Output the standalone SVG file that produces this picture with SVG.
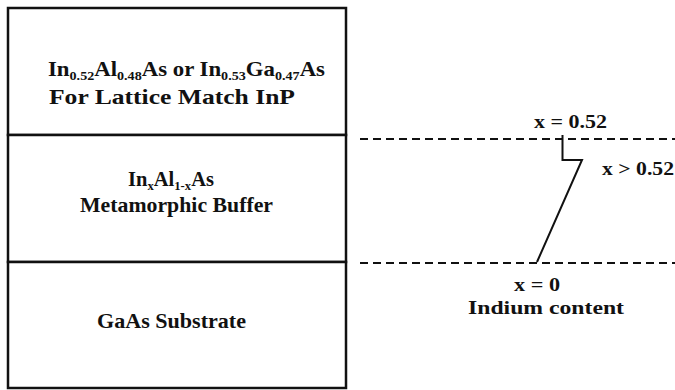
<svg xmlns="http://www.w3.org/2000/svg" width="675" height="390" viewBox="0 0 675 390">
<style>
.t{font-family:"Liberation Serif","Times New Roman","DejaVu Serif",serif;font-weight:bold;font-size:21px;fill:#111}
.r{font-size:19px}
.s{font-size:13px}
.box{fill:#fff;stroke:#111;stroke-width:2.5}
.dash{stroke:#111;stroke-width:2;stroke-dasharray:8 5;fill:none}
.prof{stroke:#111;stroke-width:2;fill:none}
</style>
<rect width="675" height="390" fill="#fff"/>
<g id="layer-top">
<rect class="box" x="8" y="8" width="338" height="127"/>
<text class="t" x="48" y="76" textLength="277" lengthAdjust="spacingAndGlyphs">In<tspan class="s" dy="4">0.52</tspan><tspan dy="-4">Al</tspan><tspan class="s" dy="4">0.48</tspan><tspan dy="-4">As or In</tspan><tspan class="s" dy="4">0.53</tspan><tspan dy="-4">Ga</tspan><tspan class="s" dy="4">0.47</tspan><tspan dy="-4">As</tspan></text>
<text class="t" x="49" y="104" textLength="246" lengthAdjust="spacingAndGlyphs">For Lattice Match InP</text>
</g>
<g id="layer-buffer">
<rect class="box" x="8" y="135" width="338" height="127"/>
<text class="t" x="128" y="186" textLength="86" lengthAdjust="spacingAndGlyphs">In<tspan class="s" dy="4">x</tspan><tspan dy="-4">Al</tspan><tspan class="s" dy="4">1-x</tspan><tspan dy="-4">As</tspan></text>
<text class="t" x="80" y="212" textLength="193" lengthAdjust="spacingAndGlyphs">Metamorphic Buffer</text>
</g>
<g id="layer-substrate">
<rect class="box" x="8" y="262" width="338" height="126"/>
<text class="t" x="97" y="328" textLength="149" lengthAdjust="spacingAndGlyphs">GaAs Substrate</text>
</g>
<g id="connectors">
<line class="dash" x1="360" y1="139" x2="675" y2="139"/>
<line class="dash" x1="360" y1="263" x2="675" y2="263"/>
<polyline class="prof" points="562.5,135 562.5,160 582,160 537,262"/>
</g>
<g id="labels">
<text class="t r" x="534" y="128" textLength="73" lengthAdjust="spacingAndGlyphs">x = 0.52</text>
<text class="t r" x="602" y="175" textLength="72" lengthAdjust="spacingAndGlyphs">x &gt; 0.52</text>
<text class="t r" x="514" y="291" textLength="46" lengthAdjust="spacingAndGlyphs">x = 0</text>
<text class="t r" x="468" y="314" textLength="156" lengthAdjust="spacingAndGlyphs">Indium content</text>
</g>
</svg>
